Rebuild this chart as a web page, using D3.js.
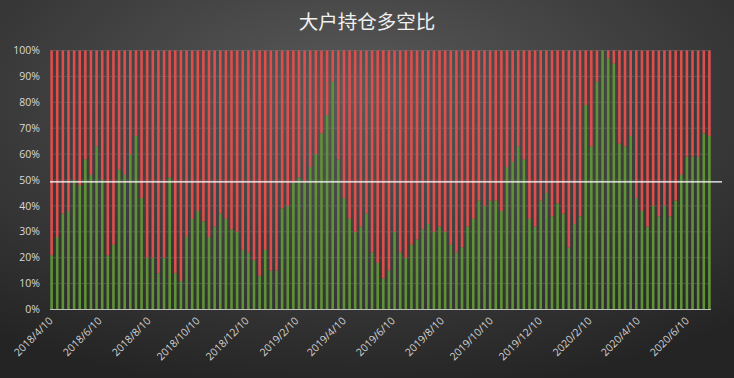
<!DOCTYPE html>
<html><head><meta charset="utf-8">
<script src="https://cdn.jsdelivr.net/npm/d3@7"></script>
<style>html,body{margin:0;padding:0;background:#333;}svg{display:block;}</style>
</head><body>
<svg id="c" width="734" height="378"></svg>
<script>
const title = "大户持仓多空比";
const startDate = "2018-04-10";
const weekCount = 118;
const longPct = [21,28,37,38,50,48,58,52,63,50,21,25,54,52,60,67,43,20,20,14,20,51,14,11,28,35,38,34,28,32,37,35,31,30,23,22,19,13,23,15,15,39,40,49,51,49,55,60,68,75,88,58,43,35,30,32,37,22,18,12,15,30,22,20,25,27,31,33,30,32,30,25,22,24,32,35,42,40,42,42,38,55,57,63,58,35,32,42,45,36,41,37,24,33,36,79,63,88,100,97,95,64,63,67,43,38,32,40,36,40,36,42,52,59,59,59,68,67];
const yTicks = [0,10,20,30,40,50,60,70,80,90,100];
const xTickLabels = ["2018/4/10","2018/6/10","2018/8/10","2018/10/10","2018/12/10","2019/2/10","2019/4/10","2019/6/10","2019/8/10","2019/10/10","2019/12/10","2020/2/10","2020/4/10","2020/6/10"];
const refLine = 49.3;

const W = 734, H = 378;
const svg = d3.select("#c");
const defs = svg.append("defs");
const rg = defs.append("radialGradient").attr("id","bg").attr("cx","48%").attr("cy","25%").attr("r","80%");
rg.append("stop").attr("offset","0%").attr("stop-color","#5a5a5a");
rg.append("stop").attr("offset","100%").attr("stop-color","#242424");
svg.append("rect").attr("width",W).attr("height",H).attr("fill","url(#bg)");

const parse = d3.timeParse("%Y-%m-%d");
const parseLab = d3.timeParse("%Y/%m/%d");
const d0 = parse(startDate);
const dates = d3.range(weekCount).map(i => d3.timeDay.offset(d0, 7*i));
const data = dates.map((d,i) => ({date:d, long:longPct[i], short:100-longPct[i]}));

const x = d3.scaleTime()
  .domain([d3.timeDay.offset(dates[0],-2), d3.timeDay.offset(dates[dates.length-1],2)])
  .range([50, 711]);
const y = d3.scaleLinear().domain([0,100]).range([309.5, 50.5]);

// gridlines
svg.append("g").selectAll("line").data(yTicks.filter(t=>t>0)).join("line")
  .attr("x1",50).attr("x2",711).attr("y1",d=>y(d)).attr("y2",d=>y(d))
  .attr("stroke","#8a8a8a").attr("stroke-opacity",0.35).attr("stroke-width",1);

const stack = d3.stack().keys(["long","short"])(data);
const colors = {long:"#5f9237", short:"#dc4f4d"};
const bw = 2.6;
svg.append("g").selectAll("g").data(stack).join("g")
  .attr("fill", s => colors[s.key])
  .selectAll("rect").data(s => s).join("rect")
  .attr("x", d => x(d.data.date) - bw/2)
  .attr("width", bw)
  .attr("y", d => y(d[1]))
  .attr("height", d => y(d[0]) - y(d[1]));

// axis line
svg.append("line").attr("x1",50).attr("x2",711).attr("y1",y(0)).attr("y2",y(0))
  .attr("stroke","#bfbfbf").attr("stroke-width",1);

// 50% reference line
svg.append("line").attr("x1",50).attr("x2",722).attr("y1",y(refLine)).attr("y2",y(refLine))
  .attr("stroke","#ffffff").attr("stroke-width",1.3);

// y labels
svg.append("g").selectAll("text").data(yTicks).join("text")
  .attr("x",40).attr("y",d=>y(d)).attr("dy","0.35em")
  .attr("text-anchor","end")
  .attr("font-family","'Open Sans','DejaVu Sans',sans-serif").attr("font-size",10.5)
  .attr("fill","#d9d9d9").text(d=>d+"%");

// x labels
svg.append("g").selectAll("text").data(xTickLabels).join("text")
  .attr("transform", d => `translate(${x(parseLab(d))+2},${y(0)+12}) rotate(-45)`)
  .attr("text-anchor","end")
  .attr("font-family","'Open Sans','DejaVu Sans',sans-serif").attr("font-size",10.5)
  .attr("fill","#d0d0d0").text(d=>d);

svg.append("text").attr("x",367).attr("y",29).attr("text-anchor","middle")
  .attr("font-family","'Noto Sans CJK SC',sans-serif").attr("font-size",19.5)
  .attr("fill","#f0f0f0").text(title);
</script>
</body></html>
